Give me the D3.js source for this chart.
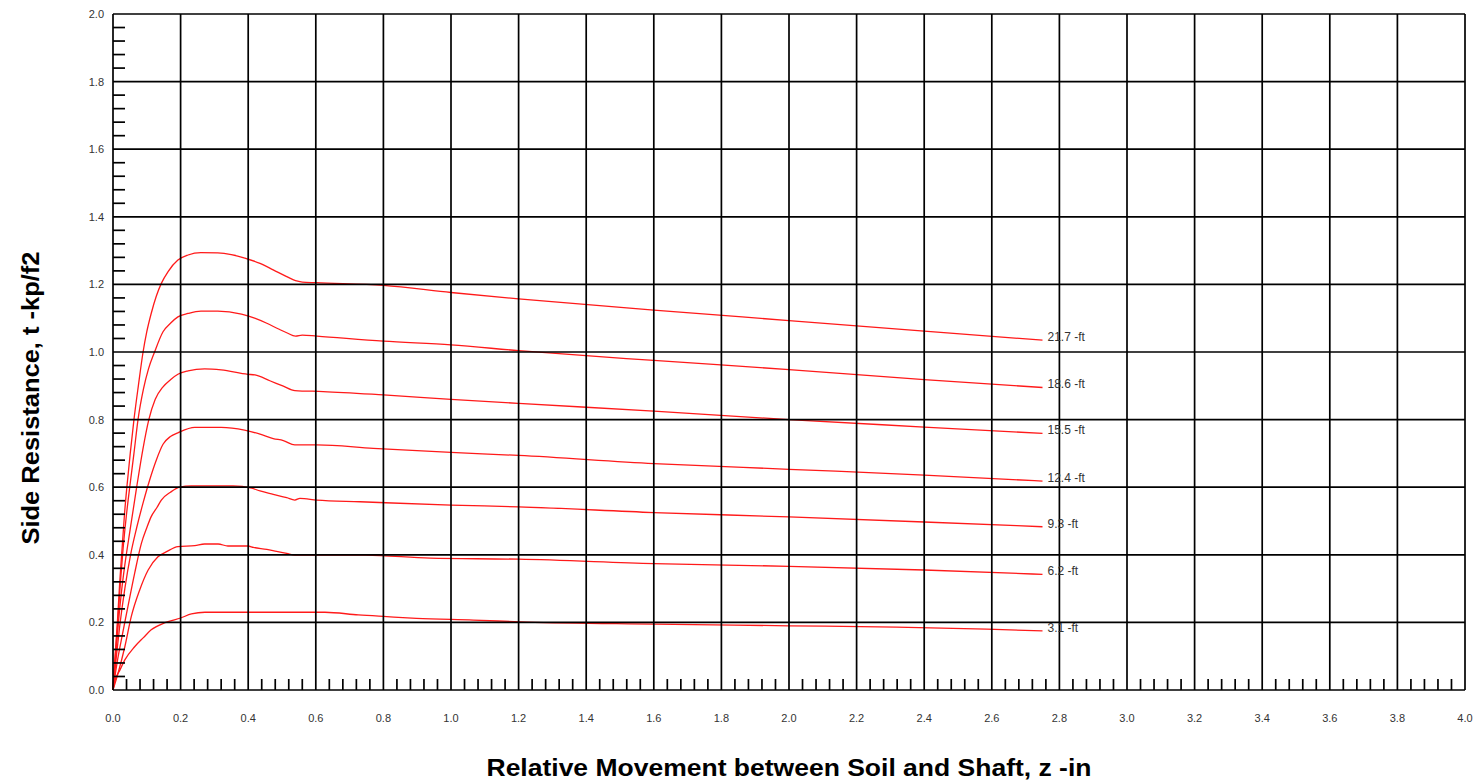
<!DOCTYPE html>
<html><head><meta charset="utf-8">
<script src="https://cdn.jsdelivr.net/npm/d3@7"></script>
<style>html,body{margin:0;padding:0;background:#fff;}svg{display:block;}</style>
</head><body>
<svg id="chart" width="1482" height="782"></svg>
<script>
const xTickLabels = ["0.0","0.2","0.4","0.6","0.8","1.0","1.2","1.4","1.6","1.8","2.0","2.2","2.4","2.6","2.8","3.0","3.2","3.4","3.6","3.8","4.0"];
const yTickLabels = ["0.0","0.2","0.4","0.6","0.8","1.0","1.2","1.4","1.6","1.8","2.0"];
const seriesNames = ["3.1 -ft","6.2 -ft","9.3 -ft","12.4 -ft","15.5 -ft","18.6 -ft","21.7 -ft"];
const s3_1 = [[0,0],[0.005,0.025],[0.02,0.058],[0.035,0.089],[0.064,0.128],[0.09,0.155],[0.113,0.178],[0.149,0.197],[0.163,0.202],[0.2,0.213],[0.232,0.225],[0.272,0.23],[0.627,0.23],[0.726,0.222],[0.81,0.217],[0.898,0.212],[1.066,0.207],[1.224,0.201],[1.6,0.195],[2.0,0.19],[2.318,0.186],[2.585,0.18],[2.75,0.175]];
const s6_2 = [[0,0],[0.015,0.05],[0.035,0.128],[0.054,0.217],[0.079,0.296],[0.104,0.355],[0.133,0.394],[0.16,0.41],[0.192,0.424],[0.242,0.427],[0.271,0.432],[0.311,0.432],[0.34,0.426],[0.399,0.426],[0.415,0.422],[0.455,0.416],[0.484,0.41],[0.514,0.404],[0.538,0.399],[0.746,0.399],[0.938,0.39],[1.2,0.387],[1.6,0.374],[2.0,0.366],[2.4,0.355],[2.75,0.342]];
const s9_3 = [[0,0],[0.012,0.08],[0.025,0.15],[0.044,0.246],[0.064,0.345],[0.084,0.434],[0.1,0.48],[0.113,0.513],[0.13,0.54],[0.143,0.562],[0.17,0.585],[0.197,0.6],[0.232,0.604],[0.355,0.604],[0.41,0.597],[0.435,0.589],[0.474,0.579],[0.514,0.569],[0.538,0.562],[0.553,0.567],[0.603,0.562],[0.731,0.557],[1.0,0.547],[1.2,0.542],[1.6,0.525],[2.0,0.512],[2.4,0.497],[2.75,0.483]];
const s12_4 = [[0,0],[0.01,0.1],[0.02,0.19],[0.035,0.3],[0.052,0.4],[0.07,0.48],[0.088,0.55],[0.108,0.62],[0.128,0.68],[0.148,0.727],[0.17,0.75],[0.192,0.761],[0.242,0.777],[0.32,0.777],[0.389,0.769],[0.435,0.757],[0.474,0.744],[0.504,0.738],[0.538,0.725],[0.603,0.725],[0.77,0.715],[1.0,0.703],[1.2,0.694],[1.6,0.67],[2.0,0.653],[2.4,0.636],[2.75,0.618]];
const s15_5 = [[0,0],[0.008,0.1],[0.016,0.2],[0.025,0.29],[0.035,0.37],[0.05,0.47],[0.07,0.6],[0.088,0.71],[0.106,0.8],[0.125,0.86],[0.148,0.897],[0.17,0.918],[0.192,0.934],[0.222,0.944],[0.271,0.95],[0.32,0.947],[0.399,0.934],[0.42,0.932],[0.464,0.915],[0.504,0.899],[0.538,0.886],[0.622,0.883],[0.8,0.873],[1.0,0.86],[1.2,0.848],[1.6,0.825],[2.0,0.80],[2.4,0.778],[2.75,0.759]];
const s18_6 = [[0,0],[0.007,0.1],[0.014,0.2],[0.022,0.32],[0.03,0.42],[0.04,0.52],[0.052,0.62],[0.062,0.7],[0.074,0.8],[0.09,0.89],[0.105,0.95],[0.123,1.0],[0.148,1.06],[0.17,1.085],[0.192,1.104],[0.222,1.114],[0.26,1.121],[0.31,1.121],[0.38,1.112],[0.419,1.10],[0.455,1.085],[0.49,1.068],[0.514,1.057],[0.54,1.047],[0.56,1.05],[0.603,1.047],[0.8,1.032],[1.0,1.021],[1.2,1.004],[1.6,0.975],[2.0,0.948],[2.4,0.918],[2.75,0.895]];
const s21_7 = [[0,0],[0.006,0.1],[0.013,0.2],[0.02,0.32],[0.027,0.42],[0.034,0.52],[0.041,0.6],[0.051,0.7],[0.062,0.8],[0.075,0.9],[0.089,1.0],[0.1,1.06],[0.113,1.114],[0.128,1.165],[0.143,1.203],[0.163,1.238],[0.192,1.272],[0.222,1.287],[0.26,1.294],[0.31,1.293],[0.35,1.288],[0.39,1.278],[0.435,1.262],[0.474,1.243],[0.514,1.223],[0.54,1.211],[0.56,1.207],[0.6,1.205],[0.8,1.197],[1.0,1.176],[1.2,1.157],[1.6,1.124],[2.0,1.093],[2.4,1.062],[2.75,1.035]];
const seriesData = [s3_1, s6_2, s9_3, s12_4, s15_5, s18_6, s21_7];
const xTitle = "Relative Movement between Soil and Shaft, z -in";
const yTitle = "Side Resistance, t -kp/f2";

const svg = d3.select("#chart");
const x = d3.scaleLinear().domain([0, 4]).range([113, 1465]);
const y = d3.scaleLinear().domain([0, 2]).range([690, 14]);
const font = "Arial, 'Liberation Sans', sans-serif";

// curves
const line = d3.line().x(d => x(d[0])).y(d => y(d[1])).curve(d3.curveMonotoneX);
svg.append("g").selectAll("path").data(seriesData).join("path")
  .attr("d", line).attr("fill", "none").attr("stroke", "#ff1a1a").attr("stroke-width", 1.3);

// grid
const xMaj = xTickLabels.map(Number);
const yMaj = yTickLabels.map(Number);
const g = svg.append("g").attr("stroke", "#000").attr("stroke-width", 1.7);
g.selectAll(".vx").data(xMaj).join("line")
  .attr("x1", d => x(d)).attr("x2", d => x(d)).attr("y1", y(0)).attr("y2", y(2));
g.selectAll(".hy").data(yMaj).join("line")
  .attr("x1", x(0)).attr("x2", x(4)).attr("y1", d => y(d)).attr("y2", d => y(d));

// minor ticks
const xMinor = d3.range(0, 100).filter(i => i % 5 !== 0).map(i => i * 0.04);
const yMinor = d3.range(0, 50).filter(i => i % 5 !== 0).map(i => i * 0.04);
g.selectAll(".mx").data(xMinor).join("line")
  .attr("x1", d => x(d)).attr("x2", d => x(d)).attr("y1", y(0)).attr("y2", y(0) - 11);
g.selectAll(".my").data(yMinor).join("line")
  .attr("x1", x(0)).attr("x2", x(0) + 12).attr("y1", d => y(d)).attr("y2", d => y(d));

// tick labels
svg.append("g").selectAll("text").data(xTickLabels).join("text")
  .attr("x", d => x(+d)).attr("y", 722).attr("text-anchor", "middle")
  .attr("font-family", font).attr("font-size", 11).attr("fill", "#333").text(d => d);
svg.append("g").selectAll("text").data(yTickLabels).join("text")
  .attr("x", 104).attr("y", d => y(+d) + 4).attr("text-anchor", "end")
  .attr("font-family", font).attr("font-size", 11).attr("fill", "#333").text(d => d);

// series labels
svg.append("g").selectAll("text").data(seriesData).join("text")
  .attr("x", d => x(d[d.length - 1][0]) + 5).attr("y", d => y(d[d.length - 1][1]) + 1)
  .attr("font-family", font).attr("font-size", 12).attr("fill", "#333")
  .text((d, i) => seriesNames[i]);

// axis titles
svg.append("text").attr("x", 789).attr("y", 776).attr("text-anchor", "middle")
  .attr("font-family", font).attr("font-size", 24).attr("font-weight", "bold").attr("fill", "#000")
  .attr("textLength", 605).attr("lengthAdjust", "spacingAndGlyphs")
  .text(xTitle);
svg.append("text").attr("transform", "translate(39,398) rotate(-90)").attr("text-anchor", "middle")
  .attr("font-family", font).attr("font-size", 24).attr("font-weight", "bold").attr("fill", "#000")
  .attr("textLength", 293).attr("lengthAdjust", "spacingAndGlyphs")
  .text(yTitle);
</script>
</body></html>
